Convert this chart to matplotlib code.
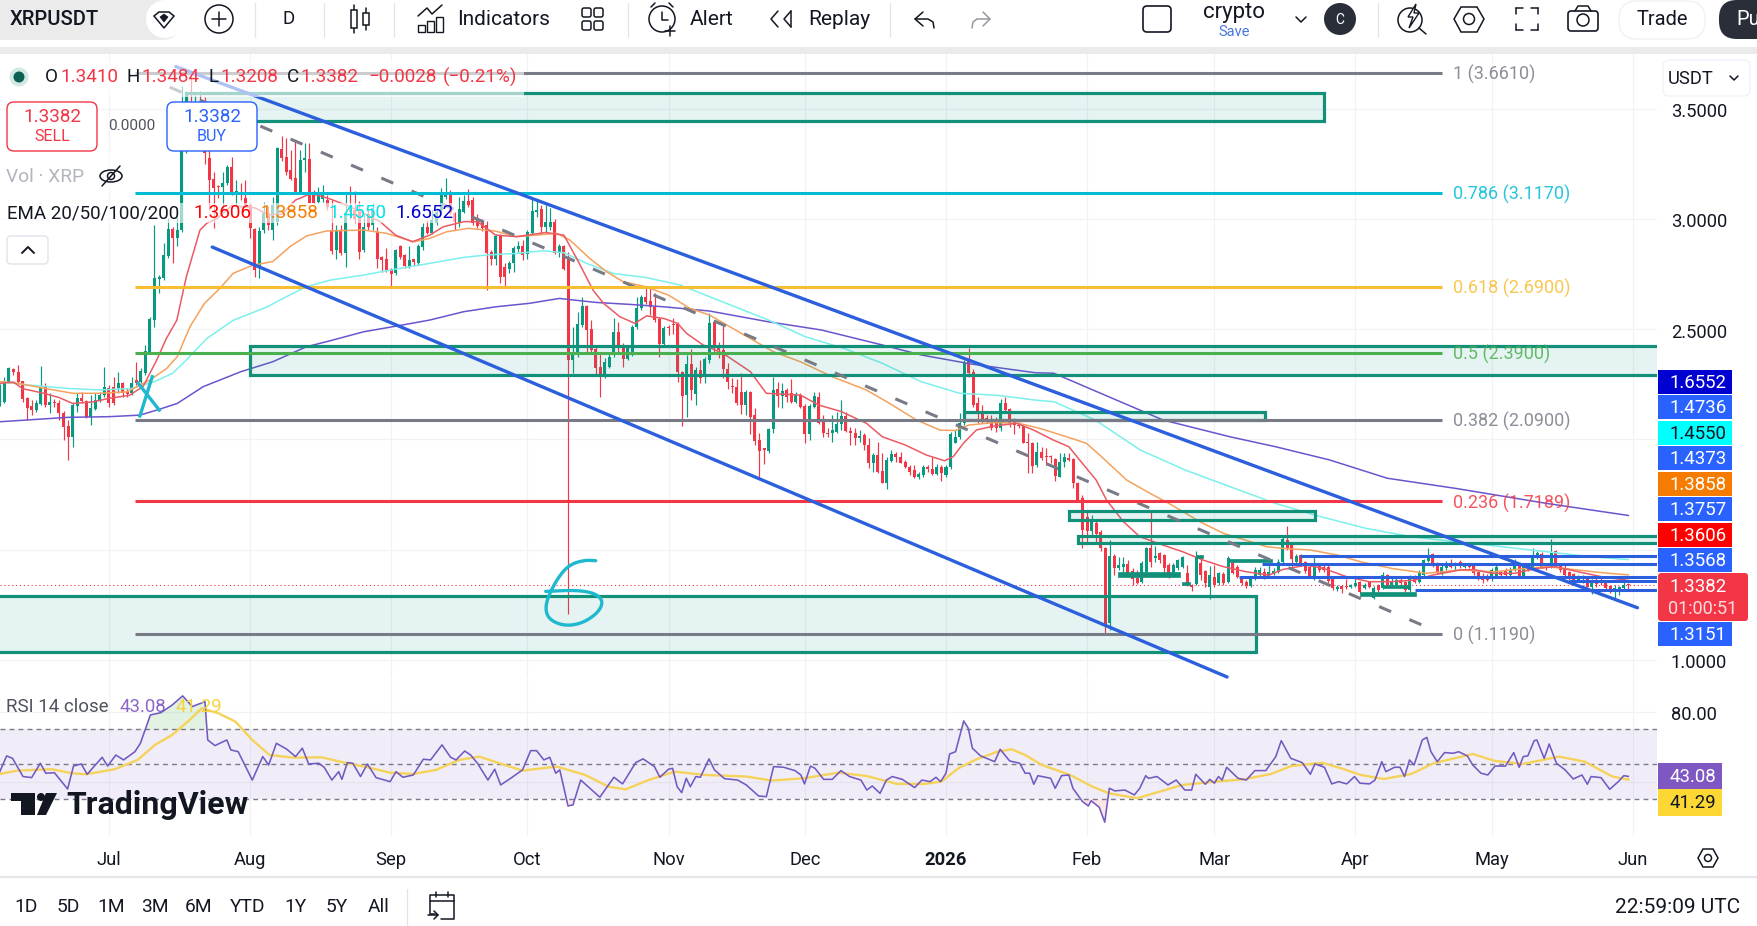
import numpy as np
import matplotlib
matplotlib.use("Agg")
import matplotlib.pyplot as plt
from matplotlib.patches import Rectangle, FancyBboxPatch, Circle, Polygon, Ellipse
from matplotlib.transforms import ScaledTranslation

plt.rcParams['font.family'] = ['Roboto', 'DejaVu Sans']

# Daily XRPUSDT candles; day 0 is 1 Jul 2025
first_day = -24
opens = [
 2.16,2.171,2.262,2.319,2.307,2.266,2.186,2.151,2.133,2.16,
 2.242,2.156,2.171,2.163,2.118,2.061,2.012,2.151,2.186,2.176,
 2.1,2.136,2.176,2.201,2.232,2.236,2.232,2.254,2.216,2.209,
 2.269,2.262,2.302,2.393,2.541,2.726,2.73,2.831,2.952,2.911,
 2.949,3.33,3.5,3.42,3.48,3.40,3.274,3.179,3.145,3.142,
 3.161,3.236,3.118,3.123,3.093,3.062,2.952,2.78,2.949,3.02,
 2.949,2.987,3.315,3.279,3.221,3.183,3.123,3.266,3.27,3.115,
 3.078,3.09,3.085,2.95,2.858,2.949,2.843,3.06,3.04,3.04,
 2.858,3.024,2.972,2.941,2.828,2.82,2.771,2.755,2.876,2.836,
 2.783,2.816,2.801,2.87,2.964,2.937,2.979,3.04,3.1,3.118,
 3.025,2.987,3.032,3.082,3.085,3.002,2.987,2.972,2.851,2.816,
 2.922,2.783,2.771,2.798,2.861,2.876,2.84,2.937,3.032,3.043,
 2.961,2.961,2.987,2.846,2.876,2.828,2.36,2.382,2.518,2.604,
 2.499,2.408,2.329,2.292,2.329,2.382,2.488,2.413,2.363,2.39,
 2.508,2.594,2.647,2.629,2.601,2.546,2.432,2.51,2.525,2.525,
 2.306,2.2,2.341,2.205,2.314,2.284,2.36,2.534,2.42,2.405,
 2.317,2.242,2.236,2.216,2.156,2.216,2.11,1.997,1.96,1.949,
 2.046,2.227,2.197,2.224,2.209,2.171,2.201,2.153,2.024,2.148,
 2.194,2.088,2.03,2.03,2.035,2.07,2.106,2.04,2.03,2.005,
 2.02,1.975,1.894,1.929,1.858,1.804,1.904,1.934,1.922,1.899,
 1.873,1.861,1.828,1.839,1.876,1.864,1.843,1.876,1.839,1.873,
 1.985,2.009,2.073,2.36,2.307,2.163,2.125,2.095,2.088,2.073,
 2.05,2.163,2.136,2.08,2.065,2.06,1.99,1.982,1.884,1.944,
 1.922,1.922,1.91,1.831,1.899,1.914,1.91,1.804,1.733,1.65,
 1.586,1.622,1.582,1.506,1.166,1.471,1.415,1.42,1.435,1.405,
 1.37,1.355,1.40,1.506,1.461,1.486,1.476,1.43,1.40,1.415,
 1.42,1.396,1.34,1.345,1.438,1.405,1.332,1.374,1.348,1.39,
 1.355,1.438,1.423,1.365,1.355,1.335,1.365,1.385,1.40,1.378,
 1.39,1.40,1.446,1.544,1.521,1.446,1.476,1.446,1.42,1.37,
 1.431,1.423,1.42,1.365,1.32,1.335,1.332,1.329,1.335,1.355,
 1.325,1.355,1.28,1.34,1.325,1.385,1.34,1.34,1.363,1.355,
 1.317,1.38,1.355,1.385,1.45,1.479,1.438,1.393,1.415,1.441,
 1.426,1.446,1.42,1.433,1.438,1.40,1.38,1.38,1.365,1.378,
 1.40,1.408,1.385,1.408,1.426,1.38,1.42,1.415,1.465,1.48,
 1.43,1.423,1.496,1.431,1.415,1.40,1.39,1.36,1.366,1.37,
 1.332,1.363,1.363,1.355,1.335,1.314,1.31,1.325,1.341,
]
closes = [
 2.21,2.254,2.322,2.307,2.262,2.182,2.141,2.133,2.166,2.239,
 2.156,2.171,2.163,2.118,2.058,2.012,2.156,2.186,2.176,2.1,
 2.141,2.179,2.201,2.239,2.163,2.166,2.254,2.209,2.206,2.257,
 2.254,2.312,2.402,2.544,2.73,2.738,2.836,2.952,2.911,2.949,
 3.45,3.50,3.42,3.48,3.40,3.30,3.176,3.138,3.142,3.161,
 3.236,3.115,3.123,3.108,3.062,2.957,2.768,2.946,3.025,2.97,
 3.062,3.319,3.274,3.214,3.179,3.123,3.266,3.274,3.073,3.073,
 3.108,3.108,3.055,2.855,2.949,2.843,3.025,3.03,3.0,2.851,
 2.964,2.964,3.047,2.816,2.813,2.768,2.752,2.858,2.828,2.786,
 2.813,2.805,2.876,2.964,2.937,2.994,3.032,3.123,3.123,3.025,
 2.987,3.043,3.082,3.062,2.982,2.967,2.957,2.846,2.816,2.922,
 2.734,2.737,2.798,2.866,2.876,2.836,2.941,3.037,3.037,2.961,
 2.987,2.987,2.846,2.876,2.771,2.36,2.382,2.525,2.604,2.495,
 2.405,2.322,2.292,2.352,2.375,2.488,2.413,2.363,2.413,2.511,
 2.594,2.647,2.624,2.598,2.541,2.432,2.503,2.503,2.518,2.306,
 2.195,2.341,2.222,2.314,2.28,2.363,2.526,2.425,2.405,2.317,
 2.262,2.236,2.163,2.156,2.216,2.103,1.994,1.949,1.95,2.046,
 2.224,2.197,2.221,2.19,2.171,2.201,2.148,2.024,2.151,2.197,
 2.076,2.027,2.024,2.042,2.07,2.106,2.04,2.03,2.005,2.017,
 1.975,1.892,1.929,1.854,1.804,1.907,1.934,1.919,1.894,1.873,
 1.854,1.831,1.843,1.873,1.864,1.843,1.876,1.846,1.876,2.024,
 2.012,2.073,2.345,2.3,2.156,2.121,2.088,2.085,2.05,2.05,
 2.163,2.133,2.076,2.065,2.06,1.985,1.982,1.879,1.944,1.914,
 1.918,1.918,1.834,1.899,1.918,1.907,1.804,1.725,1.589,1.586,
 1.627,1.573,1.506,1.16,1.471,1.415,1.431,1.435,1.393,1.366,
 1.351,1.438,1.506,1.446,1.471,1.453,1.415,1.378,1.43,1.453,
 1.465,1.34,1.33,1.468,1.385,1.348,1.385,1.34,1.393,1.351,
 1.461,1.396,1.374,1.348,1.335,1.365,1.41,1.41,1.374,1.40,
 1.405,1.446,1.547,1.506,1.456,1.471,1.438,1.405,1.378,1.431,
 1.408,1.408,1.36,1.325,1.33,1.32,1.329,1.34,1.348,1.31,
 1.34,1.332,1.325,1.317,1.385,1.34,1.355,1.363,1.348,1.317,
 1.378,1.355,1.40,1.453,1.468,1.426,1.393,1.423,1.438,1.423,
 1.435,1.426,1.433,1.42,1.393,1.37,1.363,1.363,1.408,1.423,
 1.385,1.385,1.41,1.441,1.38,1.42,1.41,1.468,1.483,1.423,
 1.415,1.483,1.431,1.408,1.385,1.378,1.355,1.375,1.378,1.332,
 1.36,1.345,1.348,1.325,1.31,1.325,1.332,1.341,1.3382,
]
highs = [
 2.25,2.284,2.33,2.325,2.337,2.266,2.19,2.179,2.179,2.333,
 2.254,2.209,2.182,2.179,2.13,2.088,2.165,2.212,2.216,2.179,
 2.201,2.209,2.216,2.327,2.247,2.284,2.307,2.262,2.232,2.284,
 2.352,2.322,2.428,2.556,2.972,2.745,2.889,3.002,2.964,3.01,
 3.60,3.58,3.661,3.56,3.58,3.55,3.40,3.21,3.153,3.214,
 3.244,3.282,3.176,3.161,3.176,3.07,2.96,2.964,3.078,3.06,
 3.10,3.327,3.375,3.365,3.312,3.357,3.312,3.342,3.342,3.13,
 3.145,3.153,3.108,3.085,2.97,2.97,3.123,3.15,3.127,3.08,
 3.02,3.04,3.07,2.964,2.831,2.866,2.775,2.865,2.881,2.84,
 2.876,2.82,2.885,2.979,2.994,3.04,3.05,3.138,3.183,3.13,
 3.03,3.1,3.108,3.133,3.1,3.02,3.0,2.99,2.86,2.93,
 2.93,2.8,2.81,2.876,2.9,2.904,2.95,3.093,3.085,3.062,
 3.062,3.047,2.997,2.885,2.88,2.85,2.51,2.579,2.647,2.61,
 2.541,2.42,2.393,2.37,2.393,2.549,2.533,2.435,2.42,2.52,
 2.647,2.654,2.692,2.692,2.662,2.555,2.515,2.517,2.549,2.53,
 2.31,2.382,2.412,2.33,2.36,2.375,2.571,2.541,2.44,2.52,
 2.345,2.277,2.272,2.303,2.225,2.22,2.141,2.027,1.96,2.05,
 2.284,2.262,2.254,2.232,2.272,2.216,2.209,2.16,2.16,2.216,
 2.216,2.11,2.05,2.11,2.125,2.178,2.125,2.055,2.05,2.042,
 2.027,2.005,1.937,1.99,1.937,1.922,1.952,1.944,1.944,1.905,
 1.884,1.884,1.85,1.884,1.884,1.919,1.888,1.884,1.884,2.035,
 2.042,2.118,2.36,2.413,2.318,2.191,2.156,2.11,2.11,2.103,
 2.182,2.191,2.141,2.095,2.08,2.065,2.027,1.99,1.99,1.964,
 1.96,1.93,1.914,1.937,1.937,1.937,1.915,1.808,1.748,1.672,
 1.657,1.63,1.59,1.51,1.544,1.48,1.465,1.465,1.453,1.415,
 1.408,1.45,1.514,1.672,1.517,1.491,1.48,1.438,1.44,1.46,
 1.47,1.43,1.345,1.496,1.476,1.41,1.426,1.43,1.40,1.40,
 1.471,1.453,1.43,1.378,1.363,1.37,1.42,1.42,1.415,1.438,
 1.415,1.456,1.559,1.607,1.53,1.48,1.48,1.45,1.426,1.471,
 1.438,1.43,1.43,1.37,1.34,1.34,1.365,1.345,1.378,1.36,
 1.35,1.36,1.335,1.345,1.40,1.39,1.37,1.378,1.378,1.36,
 1.385,1.385,1.408,1.46,1.506,1.483,1.446,1.43,1.45,1.46,
 1.446,1.453,1.44,1.44,1.441,1.405,1.393,1.39,1.415,1.43,
 1.405,1.415,1.42,1.456,1.435,1.426,1.43,1.506,1.495,1.49,
 1.44,1.547,1.50,1.438,1.438,1.405,1.395,1.385,1.385,1.375,
 1.365,1.37,1.37,1.36,1.34,1.34,1.337,1.37,1.3484,
]
lows = [
 2.15,2.163,2.254,2.29,2.25,2.17,2.088,2.11,2.125,2.156,
 2.148,2.118,2.148,2.088,1.997,1.907,1.967,2.126,2.163,2.095,
 2.065,2.133,2.171,2.194,2.148,2.156,2.209,2.194,2.194,2.201,
 2.247,2.254,2.292,2.387,2.511,2.665,2.722,2.821,2.801,2.877,
 2.94,3.30,3.40,3.38,3.33,3.25,3.04,2.957,3.093,3.04,
 3.153,3.108,3.062,3.085,3.055,2.911,2.738,2.73,2.934,2.95,
 2.904,2.97,3.26,3.198,3.176,3.115,3.115,3.214,3.07,3.07,
 3.07,3.078,3.04,2.84,2.82,2.835,2.783,3.0,2.98,2.82,
 2.85,2.95,2.95,2.775,2.76,2.76,2.692,2.745,2.82,2.775,
 2.775,2.79,2.79,2.858,2.93,2.93,2.97,3.03,3.09,3.02,
 2.949,2.964,3.025,3.055,2.97,2.96,2.945,2.677,2.79,2.79,
 2.707,2.695,2.755,2.76,2.85,2.813,2.816,2.93,3.009,2.934,
 2.934,2.949,2.84,2.828,2.768,1.21,2.299,2.375,2.51,2.39,
 2.397,2.292,2.193,2.28,2.322,2.375,2.397,2.329,2.36,2.38,
 2.5,2.585,2.615,2.564,2.53,2.375,2.425,2.472,2.48,2.26,
 2.063,2.103,2.177,2.155,2.254,2.254,2.348,2.39,2.37,2.277,
 2.227,2.209,2.156,2.115,2.11,2.024,1.975,1.823,1.888,1.94,
 2.027,2.145,2.141,2.171,2.163,2.163,2.141,1.985,1.997,2.141,
 2.07,2.012,2.012,1.99,2.027,2.042,2.035,1.975,1.975,1.99,
 1.952,1.869,1.854,1.846,1.801,1.774,1.899,1.899,1.891,1.869,
 1.839,1.825,1.82,1.83,1.854,1.84,1.84,1.813,1.828,1.865,
 1.985,2.0,2.065,2.284,2.148,2.073,2.073,2.073,2.042,2.035,
 2.04,2.125,2.055,2.024,2.05,1.982,1.849,1.849,1.873,1.907,
 1.884,1.892,1.813,1.828,1.876,1.9,1.778,1.718,1.506,1.529,
 1.559,1.529,1.496,1.12,1.136,1.385,1.408,1.385,1.378,1.34,
 1.345,1.348,1.39,1.423,1.446,1.438,1.40,1.37,1.39,1.41,
 1.415,1.335,1.314,1.34,1.363,1.332,1.275,1.332,1.34,1.34,
 1.348,1.39,1.37,1.34,1.325,1.332,1.363,1.38,1.365,1.37,
 1.385,1.395,1.44,1.499,1.42,1.43,1.426,1.396,1.37,1.363,
 1.40,1.40,1.348,1.317,1.315,1.302,1.32,1.325,1.33,1.305,
 1.32,1.325,1.275,1.31,1.32,1.332,1.335,1.33,1.34,1.31,
 1.31,1.348,1.35,1.38,1.445,1.42,1.388,1.385,1.41,1.415,
 1.408,1.415,1.415,1.415,1.385,1.363,1.348,1.358,1.36,1.372,
 1.37,1.38,1.38,1.403,1.375,1.375,1.405,1.41,1.46,1.415,
 1.41,1.418,1.423,1.40,1.38,1.363,1.348,1.355,1.348,1.33,
 1.30,1.332,1.34,1.32,1.305,1.28,1.295,1.32,1.3208,
]

# Moving averages, read at turning points
ema20_days = [-24,-21,-19,-14.5,-11,-8,-3.5,0,4.5,7.5,10.5,12.6,14.9,17,20,21.5,23.7,27,32,35,38,41,44.5,48.6,53,59.6,63,66.7,70.5,73.5,78,81,85,89.6,92,96,100,103,106.4,108.7,112.3,115.6,118.2,122,125,127,130.6,135,141,144.5,152,156,161,166.5,170,175,179.7,183.7,185.6,187.8,190.7,194.4,199.5,203.2,207.6,211,214,217,219.3,223,226.6,231.7,236,240.5,245,250,255,258,263.2,267,272,277,282,287,291,297,300,304,309,313.8,318,323,328,334]
ema20_vals = [2.254,2.26,2.23,2.21,2.19,2.163,2.17,2.186,2.20,2.24,2.36,2.457,2.54,2.737,2.949,2.98,3.0,3.06,3.05,3.02,3.02,3.085,3.115,3.09,3.055,2.987,2.926,2.896,2.926,2.964,2.987,2.987,2.926,2.919,2.926,2.938,2.926,2.813,2.677,2.617,2.556,2.526,2.56,2.548,2.526,2.48,2.428,2.39,2.307,2.209,2.201,2.156,2.126,2.073,2.012,1.975,1.929,1.903,1.922,1.982,2.043,2.06,2.073,2.043,1.997,1.967,1.891,1.816,1.725,1.627,1.559,1.521,1.491,1.453,1.423,1.40,1.385,1.41,1.43,1.415,1.378,1.355,1.355,1.362,1.385,1.408,1.41,1.393,1.393,1.415,1.423,1.40,1.378,1.3606]
ema50_days = [-24,-20,-14,-8,-2,4,9,12.7,15,17.8,21,24.4,27.3,31.7,36,39.8,43.4,47.8,56,61,67,70.5,74.2,79,85,89.6,93.9,98.4,101.3,105.7,109.4,113,118,123,127.7,132,141.6,146,152,159,166.5,171.6,177.5,182.7,186,189,194.4,200,204.6,210.5,214.9,217.8,223.7,228.8,233,239.8,245,251,254.4,257.9,264,270,275,282,289.6,297,304.3,311.6,316,323,328,334]
ema50_vals = [2.262,2.254,2.231,2.209,2.209,2.216,2.269,2.322,2.375,2.511,2.617,2.685,2.753,2.79,2.806,2.874,2.922,2.945,2.949,2.934,2.896,2.911,2.941,2.957,2.944,2.919,2.926,2.934,2.904,2.82,2.76,2.715,2.692,2.654,2.594,2.564,2.45,2.398,2.352,2.284,2.224,2.163,2.088,2.042,2.04,2.065,2.076,2.073,2.05,2.012,1.982,1.929,1.816,1.756,1.71,1.627,1.574,1.536,1.514,1.506,1.499,1.476,1.446,1.415,1.393,1.408,1.40,1.415,1.423,1.408,1.396,1.3858]
ema100_days = [-24,-18,-9,-2,5,10,14,17,21.5,27.3,34.7,39,43.4,48.6,56,63,70.5,78,83,89.6,95.5,100,105,110.9,118,125.5,132,145,153,161.5,170,178.5,187,195.3,203.7,207.7,216.8,226.7,236.6,246.4,256.4,266.3,276.3,286.2,296,306,316,325.8,334]
ema100_vals = [2.262,2.247,2.231,2.224,2.231,2.262,2.30,2.36,2.457,2.54,2.60,2.647,2.692,2.722,2.745,2.772,2.798,2.825,2.836,2.843,2.855,2.846,2.798,2.752,2.734,2.70,2.647,2.541,2.466,2.413,2.345,2.262,2.209,2.2,2.178,2.171,2.088,1.952,1.861,1.786,1.71,1.65,1.597,1.559,1.536,1.514,1.491,1.468,1.455]
ema200_days = [-24,-9,0,6.8,11,15,20.7,29,36,43.4,48.6,56,63,70.5,78,85,92.5,99,107,114.5,122,132,145,156.6,170,178.5,189.5,203.7,207.7,219.7,231.7,246.4,256.4,268.3,281,296,316,334]
ema200_vals = [2.08,2.10,2.103,2.11,2.136,2.163,2.239,2.307,2.352,2.42,2.447,2.488,2.513,2.541,2.579,2.601,2.617,2.639,2.621,2.612,2.601,2.582,2.533,2.496,2.428,2.383,2.342,2.302,2.30,2.194,2.088,2.012,1.967,1.907,1.824,1.778,1.71,1.6552]

# RSI(14) and its smoothing line
rsi_days = [-24,-22.5,-21.2,-18.9,-17,-15.1,-13.9,-12,-9.1,-7.8,-6.1,-4.8,-1.5,-0.3,1.5,3.2,5.7,6.9,9.1,11.4,13.9,16.2,18.3,21.1,21.7,23.3,25.9,26.8,28.4,31.5,33.8,35.1,36.8,39.1,41,42.5,43.9,46.1,47.3,49,50.5,51.2,52.4,53.6,55.3,56.8,58.7,61.8,63.1,64.6,66.9,69.1,70.7,73.2,75.1,76.3,78.2,79.5,81,83.3,84.8,86.1,88.3,90.9,92.7,94,95.6,96.9,98.2,99.1,100.9,102,103.7,107.9,111,112.9,115.8,117.4,119.9,121.1,123,123.9,124.9,125.9,126.9,127.8,129,130,131.9,133.1,135.3,138.2,140.1,142.8,144.5,146.1,148.3,150.8,152.1,152.9,154.2,155.2,157.1,159,160.9,162.8,165.3,166.6,167.8,169.5,170.9,172.2,174.4,177.1,178.7,180.5,181.8,182.8,184,184.8,186.1,187.9,188.9,189.8,191.6,194.7,195.9,198,200.2,201.4,202.4,203.3,204.2,207,208,209.4,211,211.9,214,215.3,215.9,217.7,218.9,219.9,221.1,223.3,225.4,226.6,227.9,228.5,230.4,232.8,234.6,236.5,238,238.9,241,242,243,243.9,244.7,245.7,248.2,250,251.9,254.3,256.5,257.7,259.8,262.3,264.1,265.1,267.2,268.8,270.3,272.1,273.8,275,277.1,278.3,279.8,280.7,282.6,283.8,284.8,285.9,286.9,288.7,289.7,290.6,292,293.6,295.5,296.7,298.6,299.8,301.6,303.1,304.7,307,308.8,310,310.9,311.9,313.3,313.9,315.5,316.6,318.2,320.1,321.9,323.8,325,325.8,328,329.9,331.8,333,334]
rsi_vals = [45.8,54.8,53.4,43,42.4,50.6,44.9,45.2,35.9,49,50.2,44.3,54,49,55.3,52.5,57.2,62,78.2,79.5,83.9,89.1,83,85.8,63.9,60.7,63.9,58.2,57.2,41,54.4,49.6,62,58.6,54.4,59.2,50.2,50.6,48.3,41,45.8,41.4,51,50.6,43,50.2,42.4,40.1,45.8,42.6,43.9,52.9,52.5,61.1,54,52.5,57.6,55.3,50.6,41,47.2,38.2,42,46.8,57.8,57.8,52.5,54,44.9,46.8,26.2,26.8,41,31.2,42.6,38.8,51,53.1,48.7,42.6,47.2,47.7,37.2,33.8,42,37.2,43,42.6,53.1,46.8,41.8,41,38.2,31.9,31.5,48.7,48.3,46.4,43.9,38.8,49,47.7,41.4,41.4,46.4,43,41,35.3,37.6,33.4,41,43,41.4,36.7,41,40.1,42.6,40.1,44.9,55.9,57.2,74.8,70.6,59.2,54.8,51.5,58.6,51.9,50.6,44.9,44.9,38.6,43.5,42,36.3,43.5,43.9,36.3,28.7,26.2,29.2,25.4,16.9,36.3,34.8,35.3,32.5,36.3,43.5,42,43,38.2,41,35.3,35.3,44.3,38.6,41.4,39.2,43,41,48.3,42,41,46.4,46.4,54.4,63.5,53.4,51,44.3,50.2,48.3,38.8,40.1,38.8,43,39.2,38.8,41,51.5,45.8,48.3,48.3,43,52.5,49.6,63.9,65.4,57.2,51.5,56.7,56.3,57.2,54.8,49.6,44.9,43.9,49,49,56.7,48.3,54.4,54.8,63.5,63.9,53.4,61.6,50.6,46.8,41.6,43.9,38.6,43,42.4,35.7,40.1,43.5,43.08]
rsi_ma_days = [-24,-20.2,-12.6,-8.2,-5,1.3,6.3,10.1,13.9,17.7,20.4,24,27.8,31.5,35.3,40.4,46.7,51.7,56.8,61.8,66.9,71.9,77,81.4,85.8,90.9,98.4,104.7,109.8,113.6,118.6,124.3,131.2,140.1,145.7,152.7,160.3,166.6,173.2,179.3,183,186.7,190.4,195.3,198.4,201.4,205.1,211.3,216.2,219.9,226,231,235.9,243.2,249.4,255.5,259.9,266.6,270.9,275.2,280.2,286.3,291.2,299.8,304.7,310.8,318.8,324.4,330.5,334]
rsi_ma_vals = [44.5,46.4,47.2,44.9,44.3,47.2,52.5,61.1,66.8,75.3,82,79.2,74.4,63.9,55.3,53.8,54,51,48.3,45.2,44.5,46.8,52.5,54.4,50.6,46.4,48.7,43.9,37.2,35.7,41,45.8,43.9,43,40.7,42,45.2,43.3,38.8,38.8,40.1,47.7,52.5,57.2,58.6,55.3,49.6,43.9,37.2,33.4,30.6,34.4,38.2,40.1,41.4,44.5,49,50.9,47.7,43.9,41.6,44.5,50.6,55.9,51.9,50.2,54.4,51.5,43,41.29]

# Axis labels
month_days = [0,31,62,92,123,153,184,215,243,274,304,335]
month_labels = ['Jul','Aug','Sep','Oct','Nov','Dec','2026','Feb','Mar','Apr','May','Jun']
price_ticks = [1.0,1.5,2.0,2.5,3.0,3.5]
price_tick_labels = ['1.0000','','','2.5000','3.0000','3.5000']

# Fibonacci retracement levels
fib_ratios = ['1','0.786','0.618','0.5','0.382','0.236','0']
fib_prices = [3.661,3.117,2.69,2.39,2.09,1.7189,1.119]
fib_colors = ['#787b86','#00bcd4','#f7be31','#4caf50','#787b86','#f23645','#787b86']

# Drawn zones: first day, last day, upper price, lower price
zone_start = [17,31.1,188,211,213,-40]
zone_end = [267.2,341,254.2,265.1,341,252.2]
zone_top = [3.57,2.423,2.123,1.675,1.563,1.29]
zone_bottom = [3.443,2.292,2.088,1.635,1.532,1.038]
# Narrow solid bands around the lows
band_start = [221.8,235.9,239,246,275,280]
band_end = [235.5,237.6,240.5,255.7,287.3,286]
band_top = [1.40,1.354,1.476,1.458,1.31,1.34]
band_bottom = [1.377,1.34,1.462,1.444,1.29,1.326]
# Horizontal levels carried to the price axis
level_prices = [1.4736,1.4373,1.3757,1.3568,1.3151]
level_start = [261.8,253.5,248.4,321,287]

# Price axis tags: label, background, text colour
tag_labels = ['1.6552','1.4736','1.4550','1.4373','1.3858','1.3757','1.3606','1.3568','1.3151']
tag_centers = [382,407,433,458,484,509,535,560,634]
tag_colors = ['#0000d0','#2962ff','#00ffff','#2962ff','#f57c00','#2962ff','#ff0000','#2962ff','#2962ff']
tag_text = ['white','white','#131722','white','white','white','white','white','white']

W, H = 1757, 926
GREEN, RED = '#089981', '#f23645'
TEAL = '#12907a'
BLUE = '#2b5fdd'
TXT = '#131722'

fig = plt.figure(figsize=(W/100, H/100), dpi=100, facecolor='white')

def rect(x0, y0, x1, y1):
    return [x0/W, 1-y1/H, (x1-x0)/W, (y1-y0)/H]

ax = fig.add_axes(rect(0, 54, 1657, 679))
rs = fig.add_axes(rect(0, 680, 1657, 836))
ax.set_xlim(-23.96, 340.3)
ax.set_ylim(1-(679-660)/220.6, 1+(660-54)/220.6)
rs.set_xlim(-23.96, 340.3)
rs.set_ylim(50-(836-764.3)/1.75, 50+(764.3-680)/1.75)

grid = '#f0f2f6'
for a in (ax, rs):
    for s in a.spines.values():
        s.set_visible(False)
    a.set_xticks(month_days)
    a.grid(True, color=grid, lw=0.9)
    a.set_axisbelow(True)
    a.yaxis.tick_right()
    a.tick_params(length=0, labelsize=13.2, labelcolor=TXT)
ax.tick_params(axis='x', labelbottom=False)
ax.set_yticks(price_ticks)
ax.set_yticklabels(price_tick_labels)
ax.tick_params(axis='y', pad=10)
rs.set_xticklabels(month_labels)
rs.tick_params(axis='x', pad=11)
rs.get_xticklabels()[6].set_fontweight('bold')
rs.set_yticks([40, 80])
rs.set_yticklabels(['', '80.00'])
rs.tick_params(axis='y', pad=10)

# Tick labels sit a little lower than their gridlines
nudge = ScaledTranslation(0, -1.5/100, fig.dpi_scale_trans)
for lab in ax.get_yticklabels() + rs.get_yticklabels():
    lab.set_transform(lab.get_transform() + nudge)

# Candles
days = np.arange(first_day, first_day+len(closes))
o, c, h, l = map(np.array, (opens, closes, highs, lows))
colors = np.where(c >= o, GREEN, RED)
ax.vlines(days, l, h, colors=colors, lw=0.85, zorder=3)
ax.bar(days, np.maximum(np.abs(c-o), 0.006), bottom=np.minimum(o, c), width=0.66,
       color=colors, linewidth=0, zorder=3.1)

# Moving averages
ax.plot(ema200_days, ema200_vals, color='#6a55cf', lw=1.1, zorder=4)
ax.plot(ema100_days, ema100_vals, color='#7cf0ec', lw=1.1, zorder=4)
ax.plot(ema50_days, ema50_vals, color='#f5a25d', lw=1.1, zorder=4)
ax.plot(ema20_days, ema20_vals, color='#ea5a64', lw=1.1, zorder=4)

# Zones and bands
for x0, x1, top, bot in zip(zone_start, zone_end, zone_top, zone_bottom):
    ax.add_patch(Rectangle((x0, bot), x1-x0, top-bot, fc=(8/255, 153/255, 129/255, 0.10),
                           ec=TEAL, lw=2.3, zorder=5))
for x0, x1, top, bot in zip(band_start, band_end, band_top, band_bottom):
    ax.add_patch(Rectangle((x0, bot), x1-x0, top-bot, fc=TEAL, ec=TEAL, lw=0.5, zorder=5))

# Fibonacci levels and their labels
for ratio, price, col in zip(fib_ratios, fib_prices, fib_colors):
    ax.plot([5.7, 293], [price, price], color=col, lw=2.2, zorder=5.2, solid_capstyle='butt')
    ax.text(295.4, price-0.007, f'{ratio} ({price:.4f})', color=col, alpha=0.85, fontsize=13,
            va='center', ha='left', zorder=5.2)

# Fibonacci trend line
ax.plot([12.3, 288.6], [3.606, 1.159], color='#787b86', lw=2.2, zorder=5.1,
        linestyle=(9.1, (4.25, 6.52)), dash_capstyle='butt')

# Descending channel
ax.plot([14.7, 336], [3.69, 1.237], color=BLUE, lw=2.4, zorder=6, solid_capstyle='round')
ax.plot([22.7, 245.8], [2.872, 0.923], color=BLUE, lw=2.4, zorder=6, solid_capstyle='round')

# Horizontal levels near the current price
for price, x0 in zip(level_prices, level_start):
    ax.plot([x0, 341], [price, price], color=BLUE, lw=2.2, zorder=6, solid_capstyle='butt')

# Last price line
ax.axhline(closes[-1], color=RED, lw=0.8, ls=(0, (1, 2.5)), zorder=2)

# Hand-drawn marks
mark = '#1fb9cf'
ax.plot([6.44, 11.05], [2.254, 2.133], color=mark, lw=2.4, zorder=6.5)
ax.plot([9.5, 6.8], [2.284, 2.106], color=mark, lw=2.4, zorder=6.5)
six = np.array([[107,1.45],[104.5,1.453],[101.1,1.431],[98.6,1.37],[96.5,1.287],[95.9,1.227],
                [96.9,1.181],[100.2,1.154],[104,1.166],[107.4,1.212],[108.7,1.264],
                [107,1.302],[102.8,1.317],[96,1.311]])
for _ in range(3):
    q = 0.75*six[:-1] + 0.25*six[1:]
    r = 0.25*six[:-1] + 0.75*six[1:]
    six = np.vstack([six[:1], np.column_stack([q, r]).reshape(-1, 2), six[-1:]])
ax.plot(six[:, 0], six[:, 1], color=mark, lw=2.4, zorder=6.5, solid_capstyle='round')

# RSI pane
rs.axhspan(30, 70, color='#7e57c2', alpha=0.10, lw=0, zorder=1)
for lev in (70, 50, 30):
    rs.axhline(lev, color='#787b86', lw=1.0, ls=(0, (3.5, 3)), zorder=2)
rd, rv = np.array(rsi_days), np.array(rsi_vals)
rs.fill_between(rd, rv, 70, where=rv > 70, interpolate=True, color='#4caf50', alpha=0.16, lw=0, zorder=2)
rs.fill_between(rd, rv, 30, where=rv < 30, interpolate=True, color='#f23645', alpha=0.12, lw=0, zorder=2)
rs.plot(rsi_ma_days, rsi_ma_vals, color='#f5d35a', lw=1.7, zorder=3)
rs.plot(rsi_days, rsi_vals, color='#7359c0', lw=1.15, zorder=4)

# Interface layer in pixel units
ui = fig.add_axes([0, 0, 1, 1], zorder=10)
ui.set_xlim(0, W)
ui.set_ylim(H, 0)
ui.axis('off')
ui.patch.set_alpha(0)

def box(x0, y0, x1, y1, fc='white', ec='none', lw=0, alpha=None, z=1):
    ui.add_patch(Rectangle((x0, y0), x1-x0, y1-y0, fc=fc, ec=ec, lw=lw, alpha=alpha, zorder=z))

def rbox(x0, y0, x1, y1, r=6, fc='white', ec='none', lw=1.0, z=2):
    ui.add_patch(FancyBboxPatch((x0+r, y0+r), x1-x0-2*r, y1-y0-2*r,
                                boxstyle=f'round,pad={r},rounding_size={r}',
                                fc=fc, ec=ec, lw=lw, zorder=z, mutation_aspect=1))

def txt(x, y, s, size=13.2, color=TXT, ha='left', weight='normal', z=5, **kw):
    ui.text(x, y+1.5, s, fontsize=size, color=color, ha=ha, va='center', fontweight=weight, zorder=z, **kw)

def line(xs, ys, color=TXT, lw=1.1, z=4):
    ui.plot(xs, ys, color=color, lw=lw, zorder=z, solid_capstyle='round', solid_joinstyle='round')

def ring(x, y, r, ec=TXT, fc='none', lw=1.1, z=4):
    ui.add_patch(Circle((x, y), r, fc=fc, ec=ec, lw=lw, zorder=z))

# Translucent backing behind the legend rows
box(0, 60, 524, 97, alpha=0.62)
box(0, 203, 455, 223, alpha=0.62)
box(0, 150, 135, 190, alpha=0.62)

# Top toolbar
box(0, 0, W, 47, z=1)
box(0, 47, W, 53.5, fc='#ebebeb', z=1)
rbox(-30, 0, 180, 40, r=18, fc='#ebebeb', z=2)
ring(165, 19, 19, ec='none', fc='white', z=2.5)
txt(10, 18, 'XRPUSDT', size=14.5, weight='medium')
ui.add_patch(Polygon([[154, 16], [159, 12], [169, 12], [174, 16], [164, 28]], fc='white', ec=TXT, lw=1.1, zorder=4))
ui.add_patch(Polygon([[160, 17], [164, 14], [168, 17], [164, 22]], fc=TXT, ec=TXT, lw=0.5, zorder=4))
ring(219, 19, 14)
line([212, 226], [19, 19]); line([219, 219], [12, 26])
for x in (255, 324, 394, 628, 890, 1378):
    line([x, x], [3, 37], color='#e4e5ea', lw=0.9)
txt(289, 18, 'D', ha='center', size=13.5)
line([354, 354], [5, 33]); box(351, 10, 357, 28, ec=TXT, lw=1.1, z=4)
line([366, 366], [8, 30]); box(363, 13, 369, 25, ec=TXT, lw=1.1, z=4)
line([418, 427, 432, 442], [16, 8, 14, 5], lw=1.1)
for xb, yb in ((418, 25), (427, 21), (436, 17)):
    box(xb, yb, xb+7, 32, fc='none', ec=TXT, lw=1.0, z=4)
txt(457, 18, 'Indicators', size=15)
for xb in (582, 594):
    for yb in (8, 21):
        rbox(xb, yb, xb+9, yb+9, r=2, fc='none', ec=TXT, lw=1.1, z=4)
ring(662, 19, 13)
line([662, 662, 668], [12, 20, 20])
line([651, 655], [7, 3]); line([673, 669], [7, 3])
line([670, 670], [26, 36]); line([665, 675], [31, 31])
txt(690, 18, 'Alert', size=15)
line([778, 771, 778], [11, 19, 27]); line([791, 784, 791], [11, 19, 27]); line([791, 791], [11, 27])
txt(808, 18, 'Replay', size=15)
line([923, 915, 923], [12, 19, 26])
line([915, 928, 933, 934], [19, 19, 22, 28])
line([983, 990, 983], [12, 19, 26], color='#9598a1')
line([990, 977, 973, 972], [19, 19, 22, 28], color='#9598a1')
rbox(1143, 6, 1171, 32, r=4, fc='none', ec=TXT, lw=1.2, z=4)
txt(1234, 11, 'crypto', size=16, ha='center')
txt(1234, 30, 'Save', size=10.5, ha='center', color='#4a75e0')
line([1296, 1301, 1306], [17, 22, 17])
ring(1340, 19, 16, ec='none', fc='#2a2e39')
txt(1340, 18, 'C', ha='center', size=10, color='white')
ring(1410, 20, 12)
ui.add_patch(Polygon([[1416, 4], [1408, 17], [1413, 17], [1409, 28], [1419, 13], [1414, 13]], fc='white', ec=TXT, lw=1.0, zorder=4.2))
line([1419, 1426], [28, 34])
ui.add_patch(Polygon([[1454, 19], [1461, 7], [1477, 7], [1484, 19], [1477, 32], [1461, 32]], fc='none', ec=TXT, lw=1.1, zorder=4))
ring(1469, 19, 5.5)
for a, b, c_, d_ in ((1516, 1516, 14, 8), (1538, 1538, 14, 8), (1516, 1516, 24, 30), (1538, 1538, 24, 30)):
    line([a, b], [c_, d_])
line([1516, 1523], [8, 8]); line([1531, 1538], [8, 8]); line([1516, 1523], [30, 30]); line([1531, 1538], [30, 30])
rbox(1568, 11, 1598, 31, r=3, fc='none', ec=TXT, lw=1.2, z=4)
ring(1583, 20, 6)
line([1575, 1578, 1588, 1591], [11, 6, 6, 11])
rbox(1619, 1, 1705, 39, r=18, fc='white', ec='#f0f1f4', lw=1.0)
txt(1662, 18, 'Trade', ha='center', size=14.5)
rbox(1719, 0, 1790, 39, r=18, fc='#2a2e39', z=2)
txt(1736, 18, 'Pu', color='white', size=14.5)

# Legend rows
ring(19, 77, 9.5, ec='none', fc='#d2e8e4', z=3)
ring(19, 77, 5.5, ec='none', fc='#0b5f53', z=3.2)
for x, s, col in ((45, 'O', TXT), (60, '1.3410', RED), (127, 'H', TXT), (141, '1.3484', RED), (209, 'L', TXT),
                  (220, '1.3208', RED), (287, 'C', TXT), (300, '1.3382', RED), (368, '\u22120.0028', RED),
                  (443, '(\u22120.21%)', RED)):
    txt(x, 76, s, color=col, size=13.6)
rbox(7, 102, 97, 151, r=7, fc='white', ec=RED, lw=1.0, z=3)
txt(52, 115, '1.3382', color=RED, ha='center', size=13.6)
txt(52, 135, 'SELL', color=RED, ha='center', size=11.5)
txt(132, 125, '0.0000', color='#50535e', ha='center', size=11)
rbox(167, 102, 257, 151, r=7, fc='white', ec='#2962ff', lw=1.0, z=3)
txt(212, 115, '1.3382', color='#2962ff', ha='center', size=13.6)
txt(212, 135, 'BUY', color='#2962ff', ha='center', size=11.5)
txt(6, 175, 'Vol \u00b7 XRP', color='#b2b5be', size=13.8)
ui.add_patch(Ellipse((111, 176), 22, 12, fc='none', ec=TXT, lw=1.1, zorder=4))
ring(111, 176, 3.5)
line([102, 120], [186, 166])
txt(7, 212, 'EMA 20/50/100/200', size=13.5)
for x, s, col in ((193, '1.3606', '#ff0000'), (260, '1.3858', '#f57c00'), (328, '1.4550', '#00e5e5'), (395, '1.6552', '#0000d0')):
    txt(x, 212, s, color=col, size=13.6)
rbox(7, 236, 48, 264, r=4, fc='white', ec='#e0e3eb', lw=1.0, z=3)
line([22, 28, 34], [253, 247, 253], lw=1.4)

# USDT selector
rbox(1663, 60, 1750, 96, r=6, fc='white', ec='#f0f3fa', lw=1.0)
txt(1668, 77, 'USDT', size=13.2)
line([1730, 1734, 1738], [76, 80, 76], lw=1.1)

# Price tags
for s, yc, col, tc in zip(tag_labels, tag_centers, tag_colors, tag_text):
    box(1658, yc-12.3, 1732, yc+12.3, fc=col, z=3)
    txt(1698, yc-0.5, s, color=tc, ha='center', size=13.4)
rbox(1658, 573, 1748, 621, r=3, fc=RED, z=3)
txt(1698, 586, '1.3382', color='white', ha='center', size=13.4)
txt(1703, 607, '01:00:51', color='#fbdde0', ha='center', size=13)

# RSI legend and tags
txt(6, 705, 'RSI 14 close', color='#50535e', size=13.5)
txt(120, 705, '43.08', color='#7e57c2', size=13.4, alpha=0.9)
txt(176, 705, '41.29', color='#f5d53f', size=13.4)
box(1658, 763, 1722, 789, fc='#7e57c2', z=3)
txt(1693, 775, '43.08', color='white', ha='center', size=13.4)
box(1658, 789, 1722, 816, fc='#fdd835', z=3)
txt(1693, 801, '41.29', color=TXT, ha='center', size=13.4)

# Logo
ui.add_patch(Polygon([[11, 793], [35, 793], [35, 815], [21, 815], [21, 801], [11, 801]], fc='#131722', ec='none', zorder=4))
ring(41, 797, 4, ec='none', fc='#131722')
ui.add_patch(Polygon([[46, 793], [57, 793], [46, 815], [37, 815]], fc='#131722', ec='none', zorder=4))
txt(66, 803, 'TradingView', size=23, weight='bold', color='#131722')

# Lower toolbar
line([0, W], [877, 877], color='#e6e7eb', lw=1.6)
for x, s in ((26, '1D'), (68, '5D'), (111, '1M'), (155, '3M'), (199, '6M'), (248, 'YTD'), (296, '1Y'), (337, '5Y'), (379, 'All')):
    txt(x, 906, s, ha='center', size=13.8)
line([407, 407], [889, 925], color='#e0e3eb', lw=0.9)
line([435, 430, 430, 454, 454, 441], [914, 914, 895, 895, 919, 919])
line([430, 454], [901, 901]); line([436, 436], [892, 897]); line([448, 448], [892, 897])
line([428, 438, 434], [915, 915, 911]); line([438, 434], [915, 919])
txt(1740, 906, '22:59:09 UTC', ha='right', size=15)
ui.add_patch(Polygon([[1698, 858], [1703, 849], [1713, 849], [1718, 858], [1713, 867], [1703, 867]], fc='none', ec=TXT, lw=1.1, zorder=4))
ring(1708, 858, 3.5)

fig.savefig('out.png', dpi=100, facecolor='white')
